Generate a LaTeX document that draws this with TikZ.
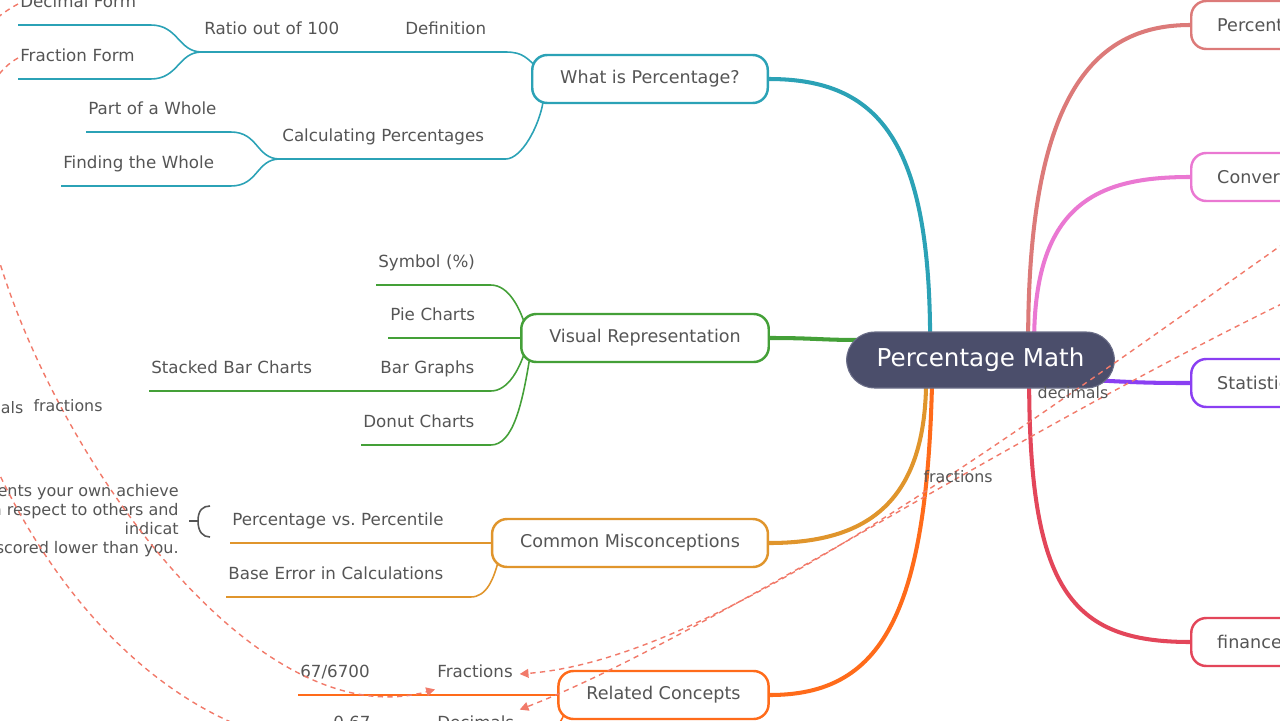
\documentclass[tikz,border=0pt]{standalone}
\usepackage{fontspec}
\setmainfont{DejaVu Sans}
\usetikzlibrary{calc,arrows.meta,backgrounds}

\definecolor{ctext}{HTML}{555555}
\definecolor{ccenter}{HTML}{4B4E6B}
\definecolor{cedge}{HTML}{6B6E88}
\definecolor{cteal}{HTML}{2BA2B6}
\definecolor{cgreen}{HTML}{44A038}
\definecolor{cgold}{HTML}{E0952C}
\definecolor{corange}{HTML}{FF6B1A}
\definecolor{csalmon}{HTML}{DC7A79}
\definecolor{cpink}{HTML}{EA78D2}
\definecolor{cpurple}{HTML}{8A3FF2}
\definecolor{cred}{HTML}{E3465A}
\definecolor{crel}{HTML}{F17A6A}

\begin{document}
\begin{tikzpicture}[x=0.02cm,y=-0.02cm,
  every node/.style={text=ctext},
  topic/.style={draw=#1,fill=white,line width=1.4pt,rounded corners=0.3cm,minimum height=0.96cm,inner xsep=0.56cm,font=\fontsize{10}{12}\selectfont},
  sidetopic/.style={topic=#1,anchor=west,inner xsep=0.52cm},
  leaf/.style={anchor=south west,align=left,inner xsep=0.04cm,inner ysep=7pt,text height=7pt,text depth=2.5pt,font=\fontsize{9.5}{11}\selectfont},
  uline/.style={draw=#1,line width=0.9pt},
  branch/.style={draw=#1,line width=2.3pt},
  rel/.style={draw=crel,line width=0.8pt,dash pattern=on 3pt off 2.5pt,-{Triangle[length=5pt,width=5pt]}},
  rlabel/.style={font=\fontsize{9}{11}\selectfont,inner sep=1pt}]
\useasboundingbox (0,0) rectangle (1280,720);
\clip (0,0) rectangle (1280,720);

\node[fill=ccenter,draw=cedge,line width=0.6pt,rounded corners=0.56cm,minimum height=1.12cm,inner xsep=0.6cm,text=white,font=\fontsize{14}{16}\selectfont] (pm) at (980.5,360) {Percentage Math};

\node[topic=cteal] (what) at (650,79) {What is Percentage?};
\node[topic=cgreen] (vis) at (645,338) {Visual Representation};
\node[topic=cgold] (mis) at (630,543) {Common Misconceptions};
\node[topic=corange] (rel) at (663.5,695) {Related Concepts};

\node[sidetopic=csalmon] (pct) at (1190,25) {Percent};
\node[sidetopic=cpink] (conv) at (1190,177) {Conver};
\node[sidetopic=cpurple] (stat) at (1190,383) {Statistic};
\node[sidetopic=cred] (fin) at (1190,642) {finance};

\node[leaf,text width=2.56cm] (dm) at (18,25) {Decimal Form};
\node[leaf,text width=2.56cm] (ff) at (18,79) {Fraction Form};
\node[leaf,text width=3.48cm] (ratio) at (202,52) {Ratio out of 100};
\node[leaf,text width=1.96cm] (def) at (403,52) {Definition};
\node[leaf,text width=4.42cm] (calc) at (280,159) {Calculating Percentages};
\node[leaf,text width=2.8cm] (pw) at (86,132) {Part of a Whole};
\node[leaf,text width=3.3cm] (fw) at (61,186) {Finding the Whole};

\node[leaf,text width=2.2cm] (sym) at (376,285) {Symbol (\%)};
\node[leaf,text width=1.96cm] (pie) at (388,338) {Pie Charts};
\node[leaf,text width=2.16cm] (bar) at (378,391) {Bar Graphs};
\node[leaf,text width=3.72cm] (stk) at (149,391) {Stacked Bar Charts};
\node[leaf,text width=2.5cm] (don) at (361,445) {Donut Charts};

\node[leaf,text width=4.52cm] (pvp) at (230,543) {Percentage vs.\ Percentile};
\node[leaf,text width=4.8cm] (base) at (226,597) {Base Error in Calculations};
\node[align=right,anchor=east,inner sep=0.02cm,font=\fontsize{9.1}{10.8}\selectfont] (note) at (180,521) {ents your own achieve\\n respect to others and\\indicat\\scored lower than you.};
\coordinate (bk) at (198,521);

\node[leaf,text width=2.32cm] (num) at (298,695) {67/6700};
\node[leaf,text width=1.6cm] (frac) at (435,695) {Fractions};
\node[leaf,text width=2.0cm] (zero) at (331,746) {0.67};
\node[leaf,text width=1.6cm] (dec) at (435,746) {Decimals};

\begin{scope}[on background layer]
\draw[branch=cteal] ($(pm.north west)+(84,10)$) .. controls +(0,-200) and +(110,0) .. (what.east);
\draw[branch=cgreen] (vis.east) .. controls +(45,0) and +(-40,0) .. ($(pm.west)+(14,-20)$);
\draw[branch=cgold] ($(pm.south west)+(80,-10)$) .. controls +(0,122) and +(100,0) .. (mis.east);
\draw[branch=corange] ($(pm.south west)+(86,-10)$) .. controls +(-5,240) and +(110,0) .. (rel.east);
\draw[branch=csalmon] ($(pm.north west)+(182,10)$) .. controls +(0,-240) and +(-100,0) .. (pct.west);
\draw[branch=cpink] ($(pm.north west)+(188,10)$) .. controls +(0,-140) and +(-90,0) .. (conv.west);
\draw[branch=cpurple] ($(pm.south east)+(-15,-8)$) .. controls +(40,2) and +(-40,0) .. (stat.west);
\draw[branch=cred] ($(pm.south west)+(183,-10)$) .. controls +(0,210) and +(-120,0) .. (fin.west);

\draw[uline=cteal] (dm.south west) -- (dm.south east) .. controls +(28,0) and +(-24,0) .. (ratio.south west) -- (ratio.south east) -- (def.south west) -- (def.south east) .. controls +(18,0) and +(-10,-8) .. ($(what.west)+(6,-12)$);
\draw[uline=cteal] (ff.south west) -- (ff.south east) .. controls +(28,0) and +(-24,0) .. (ratio.south west);
\draw[uline=cteal] (pw.south west) -- (pw.south east) .. controls +(28,0) and +(-24,0) .. (calc.south west) -- (calc.south east) .. controls +(16,0) and +(-4,24) .. ($(what.south west)+(12,-2)$);
\draw[uline=cteal] (fw.south west) -- (fw.south east) .. controls +(28,0) and +(-24,0) .. (calc.south west);

\draw[uline=cgreen] (sym.south west) -- (sym.south east) .. controls +(18,0) and +(-6,-20) .. ($(vis.west)+(6,-10)$);
\draw[uline=cgreen] (pie.south west) -- (pie.south east) -- (vis.west);
\draw[uline=cgreen] (stk.south west) -- (stk.south east) -- (bar.south west) -- (bar.south east) .. controls +(18,0) and +(-6,20) .. ($(vis.west)+(6,10)$);
\draw[uline=cgreen] (don.south west) -- (don.south east) .. controls +(22,0) and +(-8,50) .. ($(vis.west)+(10,18)$);

\draw[uline=cgold] (pvp.south west) -- (pvp.south east) -- (mis.west);
\draw[uline=cgold] (base.south west) -- (base.south east) .. controls +(16,0) and +(-5,20) .. ($(mis.west)+(8,16)$);

\draw[uline=corange] (num.south west) -- (num.south east) -- (frac.south west) -- (frac.south east) -- (rel.west);
\draw[uline=corange] (zero.south west) -- (zero.south east) -- (dec.south west) -- (dec.south east) .. controls +(18,0) and +(-6,20) .. ($(rel.west)+(8,16)$);
\end{scope}

\draw[ctext,line width=0.9pt] (note.east) ++(9,0) -- (bk) .. controls +(0,-11) and +(-7,0) .. +(12,-15) (bk) .. controls +(0,11) and +(-7,0) .. +(12,16);

\coordinate (srcA) at (1300,232);
\coordinate (srcB) at (1300,295);
\draw[rel] (srcA) .. controls (950,480) and (700,660) .. (frac.east);
\draw[rel] (srcB) .. controls (1000,440) and (700,640) .. (dec.20);
\draw[rel] (ff.west) .. controls (-130,140) and (180,760) .. (frac.200);
\draw[rel] (dm.west) .. controls (-200,120) and (20,830) .. (dec.200);

\node[rlabel] (lfr1) at (958,477) {fractions};
\node[rlabel] (ldec1) at (1073,393) {decimals};
\node[rlabel] (lfr2) at (68,406) {fractions};
\node[rlabel] (ldec2) at (-12,408) {decimals};
\end{tikzpicture}
\end{document}
